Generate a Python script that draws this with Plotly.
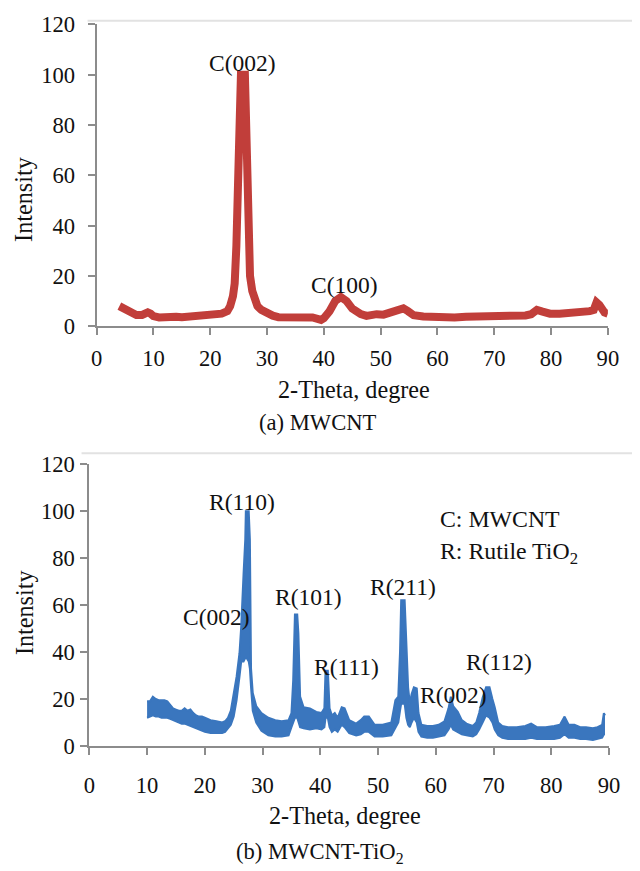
"""XRD patterns: (a) MWCNT and (b) MWCNT-TiO2."""

import plotly.graph_objects as go

# (a) MWCNT - intensity trace
mwcnt_theta = [
    4.0, 4.5, 5.0, 5.5, 6.0, 7.0, 8.0, 9.0, 9.5, 10.0, 11.0, 12.0, 13.0, 14.0,
    15.0, 16.0, 17.0, 18.0, 19.0, 20.0, 21.0, 22.0, 23.0, 23.5, 24.0, 24.3,
    24.6, 24.9, 25.1, 25.4, 26.1, 26.3, 26.6, 26.8, 27.0, 27.4, 27.8, 28.3,
    29.0, 30.0, 31.0, 32.0, 34.0, 36.0, 38.0, 39.5, 40.0, 41.0, 42.0, 43.0,
    43.5, 44.0, 45.0, 45.7, 46.5, 47.5, 48.5, 49.3, 50.5, 52.2, 53.2, 54.0,
    54.8, 55.8, 57.5, 59.0, 61.1, 63.0, 65.0, 66.9, 68.5, 69.9, 72.0, 74.0,
    75.5, 76.5, 77.5, 78.5, 79.8, 81.5, 83.0, 84.5, 85.8, 86.8, 87.5, 88.0,
    88.5, 88.9, 89.4, 90.0,
]
mwcnt_int = [
    8.0, 7.5, 7.0, 6.0, 5.5, 4.5, 4.5, 5.5, 5.0, 4.0, 3.5, 3.8, 3.6, 3.8,
    3.6, 3.8, 3.6, 3.8, 3.8, 4.0, 4.2, 5.0, 6.0, 8.0, 12.0, 17.0,
    32.0, 50.0, 80.0, 100.0, 100.0, 73.0, 45.0, 28.0, 20.0, 14.0, 10.0, 8.0,
    6.5, 5.0, 4.2, 3.6, 3.5, 3.4, 3.5, 2.5, 3.2, 6.0, 10.0, 11.6,
    11.2, 10.0, 7.0, 5.7, 4.8, 4.1, 4.6, 4.8, 4.6, 5.7, 6.8, 7.1,
    6.0, 4.4, 3.9, 3.6, 3.7, 3.5, 3.8, 3.9, 3.6, 3.4, 3.8, 4.3,
    4.3, 4.8, 6.5, 5.8, 5.0, 5.0, 5.2, 5.3, 5.2, 6.0, 6.5, 9.5,
    8.5, 6.5, 5.5, 5.0,
]

# (b) MWCNT-TiO2 - upper and lower edges of the noisy trace
hybrid_theta = [
    10.0, 10.5, 11.0, 11.5, 12.0, 12.5, 13.0, 13.5, 14.0, 14.5, 15.0, 15.5,
    16.0, 16.5, 17.0, 17.5, 18.0, 18.5, 19.0, 19.5, 20.0, 21.0, 22.0, 23.0,
    23.5, 24.0, 24.5, 25.0, 25.5, 26.0, 26.3, 26.7, 27.0, 27.1, 27.6, 27.8,
    28.0, 28.3, 28.9, 29.8, 31.0, 32.2, 33.3, 34.5, 35.0, 35.3, 35.6, 36.0,
    36.2, 36.5, 37.1, 38.2, 39.3, 40.2, 40.7, 40.9, 41.3, 41.6, 42.0, 42.5,
    43.0, 43.7, 44.2, 45.0, 46.2, 47.0, 47.6, 48.4, 49.4, 50.8, 52.3, 53.0,
    53.5, 53.8, 54.0, 54.6, 54.9, 55.2, 55.5, 55.8, 56.2, 56.7, 57.0, 57.5,
    58.5, 59.5, 60.5, 61.5, 62.2, 62.6, 63.0, 63.8, 64.5, 65.3, 66.4, 67.0,
    67.5, 68.1, 68.7, 69.3, 69.8, 70.2, 70.8, 71.5, 72.5, 74.0, 75.5, 76.5,
    77.5, 79.0, 80.5, 81.5, 82.3, 83.0, 84.0, 85.0, 86.0, 87.2, 88.0, 88.8,
    89.1, 89.3,
]
hybrid_upper = [
    19.0, 19.0, 21.0, 20.0, 19.5, 19.5, 19.5, 19.0, 17.5, 16.0, 15.5, 15.0,
    15.0, 16.0, 15.0, 15.5, 14.0, 13.0, 12.5, 12.5, 12.0, 11.0, 10.5, 10.0,
    10.5, 12.0, 15.0, 22.0, 29.5, 39.5, 51.0, 73.0, 88.0, 100.0, 100.0, 88.0,
    33.0, 22.5, 17.0, 14.0, 12.0, 11.0, 10.5, 11.0, 14.0, 28.0, 56.0, 56.0,
    48.0, 21.0, 16.5, 16.0, 14.5, 14.0, 16.0, 32.0, 32.0, 16.0, 13.0, 14.0,
    12.0, 16.5, 16.0, 11.0, 9.5, 11.0, 12.5, 12.5, 9.0, 9.0, 10.0, 19.5,
    21.0, 40.0, 62.0, 62.0, 40.0, 25.0, 18.0, 22.0, 25.0, 24.5, 14.0, 9.0,
    8.5, 8.5, 9.0, 10.5, 16.0, 21.0, 17.0, 14.5, 11.0, 9.5, 8.5, 10.0,
    14.0, 20.5, 25.0, 25.0, 20.0, 16.5, 10.0, 8.5, 8.0, 8.0, 8.5, 9.5,
    8.0, 8.0, 8.5, 9.0, 12.5, 9.0, 9.0, 8.0, 8.0, 7.5, 8.0, 9.0,
    14.0, 13.0,
]
hybrid_lower = [
    12.0, 12.5, 13.0, 12.5, 12.5, 12.0, 12.0, 12.0, 11.5, 11.0, 10.5, 10.0,
    9.5, 9.5, 9.0, 8.5, 8.0, 7.5, 7.0, 6.5, 6.0, 5.5, 5.5, 5.5,
    6.0, 7.5, 9.0, 12.5, 19.5, 29.5, 36.0, 36.0, 38.0, 38.0, 36.0, 33.0,
    25.0, 15.0, 10.0, 6.5, 4.5, 4.0, 4.0, 4.5, 8.0, 10.0, 12.0, 12.0,
    10.0, 8.0, 7.5, 7.0, 7.5, 7.0, 8.0, 12.0, 12.0, 8.0, 6.0, 7.0,
    6.0, 9.0, 8.0, 5.5, 4.5, 5.0, 6.0, 6.0, 4.0, 4.0, 4.5, 8.0,
    10.0, 15.0, 18.0, 18.0, 12.0, 9.0, 8.0, 10.0, 12.0, 10.0, 6.0, 4.0,
    3.5, 3.5, 4.0, 4.5, 7.0, 9.0, 7.0, 6.0, 5.0, 4.5, 4.0, 5.0,
    7.0, 10.0, 13.0, 12.0, 10.0, 7.0, 4.5, 3.5, 3.0, 3.0, 3.0, 3.5,
    3.0, 3.0, 3.0, 3.5, 5.0, 3.5, 3.5, 3.0, 3.0, 2.5, 3.0, 3.5,
    5.0, 5.0,
]

x_ticks = [0, 10, 20, 30, 40, 50, 60, 70, 80, 90]
y_ticks = [0, 20, 40, 60, 80, 100, 120]

# peak labels: (text, 2-theta, intensity)
mwcnt_peaks = [("C(002)", 25.7, 104.5), ("C(100)", 43.7, 16.3)]
hybrid_peaks = [
    ("R(110)", 26.45, 104.0),
    ("C(002)", 21.95, 55.0),
    ("R(101)", 37.9, 63.5),
    ("R(111)", 44.6, 33.7),
    ("R(211)", 54.25, 67.8),
    ("R(002)", 63.0, 21.7),
    ("R(112)", 70.9, 35.9),
]
legend_lines = [("C: MWCNT", 96.5), ("R: Rutile TiO<sub>2</sub>", 82.0)]

RED = "#C13E3A"
BLUE = "#3A76BE"
AXIS = "#8c8c8c"
INK = "#111111"
FONT = "Liberation Serif"
W, H = 640, 871

fig = go.Figure()

fig.add_trace(go.Scatter(
    x=mwcnt_theta, y=mwcnt_int, mode="lines",
    line=dict(color=RED, width=8), xaxis="x", yaxis="y",
))
fig.add_trace(go.Scatter(
    x=hybrid_theta, y=hybrid_lower, mode="lines",
    line=dict(color=BLUE, width=2), xaxis="x2", yaxis="y2",
))
fig.add_trace(go.Scatter(
    x=hybrid_theta, y=hybrid_upper, mode="lines", fill="tonexty",
    fillcolor=BLUE, line=dict(color=BLUE, width=2), xaxis="x2", yaxis="y2",
))

axis_common = dict(
    showline=True, linecolor=AXIS, linewidth=2,
    ticks="outside", ticklen=7, tickwidth=2, tickcolor=AXIS,
    showgrid=False, zeroline=False,
    tickfont=dict(family=FONT, size=22.6, color=INK),
)

fig.update_layout(
    width=W, height=H, autosize=False,
    margin=dict(l=0, r=0, t=0, b=0),
    paper_bgcolor="white", plot_bgcolor="white",
    showlegend=False,
    font=dict(family=FONT, size=23, color=INK),
    xaxis=dict(domain=[84.9 / W, 610.1 / W], range=[0, 90], tickvals=x_ticks,
               anchor="y", ticklabelstandoff=4, **axis_common),
    yaxis=dict(domain=[1 - 315.3 / H, 1 - 4.6 / H], range=[0, 120], tickvals=y_ticks,
               anchor="x", ticklabelstandoff=8, **axis_common),
    xaxis2=dict(domain=[77.4 / W, 611.3 / W], range=[0, 90], tickvals=x_ticks,
                anchor="y2", ticklabelstandoff=11, **axis_common),
    yaxis2=dict(domain=[1 - 747.4 / H, 1 - 457.3 / H], range=[0, 120], tickvals=y_ticks,
                anchor="x2", ticklabelstandoff=1, **axis_common),
)

# faint chart-area borders above each panel
for x0, x1, y in [(75.6, 636.3, 0.8), (69.4, 636.3, 446.0)]:
    fig.add_shape(type="line", xref="paper", yref="paper",
                  x0=x0 / W, x1=x1 / W, y0=1 - y / H, y1=1 - y / H,
                  line=dict(color="#e2e2e2", width=2))

for text, x, y in mwcnt_peaks:
    fig.add_annotation(x=x, y=y, xref="x", yref="y", text=text, showarrow=False,
                       xanchor="center", yanchor="middle",
                       font=dict(family=FONT, size=23.5, color=INK))
for text, x, y in hybrid_peaks:
    fig.add_annotation(x=x, y=y, xref="x2", yref="y2", text=text, showarrow=False,
                       xanchor="center", yanchor="middle",
                       font=dict(family=FONT, size=23.5, color=INK))
for text, y in legend_lines:
    fig.add_annotation(x=60.4, y=y, xref="x2", yref="y2", text=text, showarrow=False,
                       xanchor="left", yanchor="middle",
                       font=dict(family=FONT, size=23.8, color=INK))

# axis titles and captions placed in page coordinates
page_text = [
    ("Intensity", 10.3, 185.2, -90, 24.2),
    ("Intensity", 10.3, 610.6, -90, 24.2),
    ("2-Theta, degree", 349.3, 380.2, 0, 24.2),
    ("2-Theta, degree", 340.0, 819.4, 0, 24.2),
    ("(a) MWCNT", 312.2, 414.6, 0, 22.6),
    ("(b) MWCNT-TiO<sub>2</sub>", 314.3, 857.5, 0, 22.6),
]
for text, px, py, angle, size in page_text:
    fig.add_annotation(x=px / W, y=1 - py / H, xref="paper", yref="paper",
                       text=text, showarrow=False, textangle=angle,
                       xanchor="center", yanchor="middle",
                       font=dict(family=FONT, size=size, color=INK))

fig.write_html("out.html")
